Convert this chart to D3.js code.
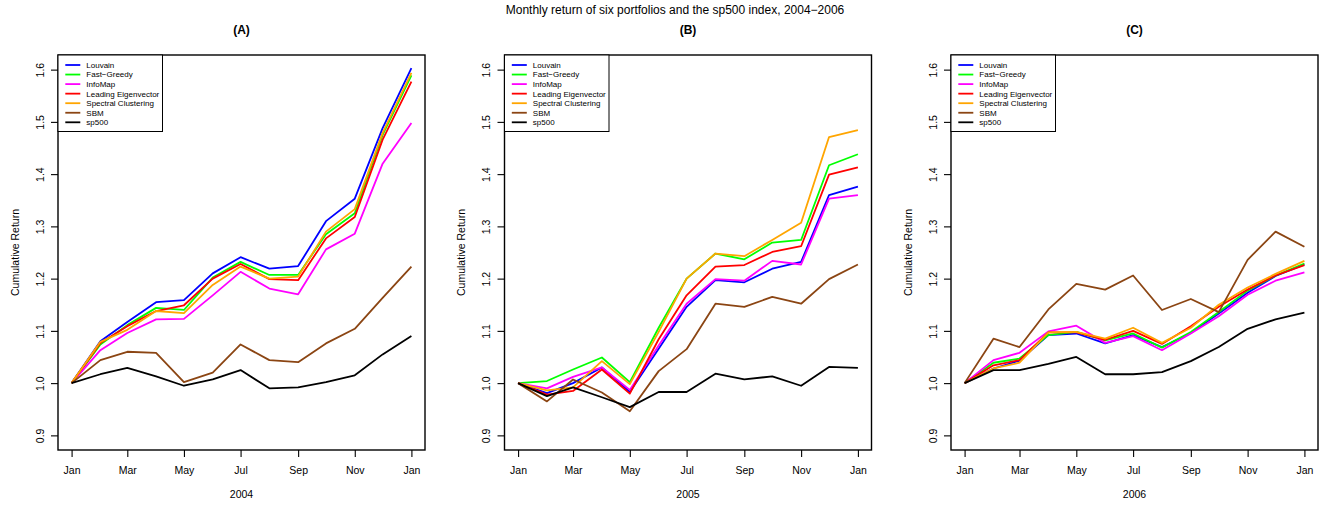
<!DOCTYPE html>
<html>
<head>
<meta charset="utf-8">
<script src="https://cdn.jsdelivr.net/npm/d3@7"></script>
<style>
  html, body { margin: 0; padding: 0; background: #fff; }
  svg { display: block; font-family: "Liberation Sans", Arial, Helvetica, sans-serif; }
</style>
</head>
<body>
<svg id="chart" width="1335" height="508"></svg>
<script>
// ---- data -------------------------------------------------------------
const years = [2004, 2005, 2006];
const panelLabels = ["(A)", "(B)", "(C)"];
const seriesNames = ["Louvain", "Fast\u2212Greedy", "InfoMap", "Leading Eigenvector", "Spectral Clustering", "SBM", "sp500"];
const seriesColors = ["#0000ff", "#00ff00", "#ff00ff", "#ff0000", "#ffa500", "#8b4513", "#000000"];
const yTicks = [0.9, 1.0, 1.1, 1.2, 1.3, 1.4, 1.5, 1.6];
const monthTickLabels = ["Jan", "Mar", "May", "Jul", "Sep", "Nov", "Jan"];

// cumulative return at the first of each month, Jan..Jan, one row per year
const louvain = [
  [1.000, 1.080, 1.117, 1.155, 1.159, 1.210, 1.241, 1.219, 1.224, 1.310, 1.353, 1.488, 1.603],
  [1.000, 0.981, 1.000, 1.030, 0.983, 1.066, 1.146, 1.197, 1.193, 1.219, 1.232, 1.360, 1.376],
  [1.000, 1.028, 1.043, 1.092, 1.095, 1.076, 1.092, 1.069, 1.096, 1.133, 1.173, 1.205, 1.227]
];
const fastGreedy = [
  [1.000, 1.074, 1.111, 1.144, 1.140, 1.202, 1.232, 1.207, 1.207, 1.285, 1.325, 1.475, 1.589],
  [1.000, 1.004, 1.026, 1.049, 1.002, 1.106, 1.200, 1.248, 1.237, 1.269, 1.274, 1.417, 1.438],
  [1.000, 1.039, 1.047, 1.092, 1.098, 1.082, 1.095, 1.068, 1.098, 1.136, 1.177, 1.206, 1.229]
];
const infoMap = [
  [1.000, 1.063, 1.096, 1.122, 1.123, 1.168, 1.213, 1.181, 1.170, 1.256, 1.286, 1.420, 1.498],
  [1.000, 0.990, 1.012, 1.030, 0.987, 1.072, 1.152, 1.199, 1.196, 1.234, 1.227, 1.353, 1.360],
  [1.000, 1.044, 1.058, 1.099, 1.110, 1.077, 1.090, 1.063, 1.095, 1.128, 1.169, 1.196, 1.212]
];
const leadingEigen = [
  [1.000, 1.077, 1.109, 1.138, 1.149, 1.200, 1.228, 1.199, 1.197, 1.277, 1.318, 1.466, 1.577],
  [1.000, 0.978, 0.985, 1.026, 0.980, 1.084, 1.168, 1.223, 1.226, 1.251, 1.262, 1.399, 1.413],
  [1.000, 1.034, 1.044, 1.097, 1.097, 1.083, 1.100, 1.075, 1.109, 1.146, 1.179, 1.206, 1.226]
];
const spectral = [
  [1.000, 1.079, 1.102, 1.138, 1.134, 1.188, 1.223, 1.200, 1.204, 1.290, 1.333, 1.479, 1.594],
  [1.000, 0.986, 0.992, 1.042, 0.998, 1.098, 1.200, 1.248, 1.243, 1.274, 1.307, 1.471, 1.484],
  [1.000, 1.028, 1.039, 1.097, 1.098, 1.085, 1.106, 1.077, 1.106, 1.150, 1.183, 1.209, 1.234]
];
const sbm = [
  [1.000, 1.044, 1.060, 1.058, 1.002, 1.020, 1.074, 1.044, 1.040, 1.076, 1.104, 1.163, 1.223],
  [1.000, 0.965, 1.007, 0.982, 0.946, 1.023, 1.065, 1.152, 1.146, 1.165, 1.152, 1.199, 1.227],
  [1.000, 1.085, 1.069, 1.141, 1.190, 1.179, 1.206, 1.140, 1.161, 1.136, 1.236, 1.290, 1.261]
];
const sp500 = [
  [1.000, 1.017, 1.029, 1.013, 0.995, 1.007, 1.025, 0.990, 0.992, 1.002, 1.015, 1.055, 1.090],
  [1.000, 0.975, 0.992, 0.973, 0.954, 0.983, 0.983, 1.018, 1.007, 1.013, 0.995, 1.031, 1.029],
  [1.000, 1.025, 1.025, 1.037, 1.050, 1.017, 1.017, 1.021, 1.042, 1.069, 1.104, 1.122, 1.135]
];
const seriesValues = [louvain, fastGreedy, infoMap, leadingEigen, spectral, sbm, sp500];

// ---- layout -----------------------------------------------------------
const svg = d3.select("#chart");
const panelLefts = [58, 504.5, 951];
const panelWidth = 367;
const plotTop = 55, plotBottom = 450;
const fontTick = "10.5px";

svg.append("text")
  .attr("x", 675).attr("y", 14)
  .attr("text-anchor", "middle")
  .style("font-size", "12px")
  .text("Monthly return of six portfolios and the sp500 index, 2004\u22122006");

// R-style axis range: data limits padded by 4% on each side
const yLo = 0.9, yHi = 1.6, yPad = (yHi - yLo) * 0.04;
const y = d3.scaleLinear().domain([yLo - yPad, yHi + yPad]).range([plotBottom, plotTop]);

years.forEach((year, p) => {
  const left = panelLefts[p], right = left + panelWidth;
  const start = new Date(Date.UTC(year, 0, 1));
  const end = new Date(Date.UTC(year + 1, 0, 1));
  const dates = d3.utcMonth.range(start, new Date(Date.UTC(year + 1, 0, 2)));
  const span = end - start;
  const x = d3.scaleUtc()
    .domain([new Date(+start - span * 0.04), new Date(+end + span * 0.04)])
    .range([left, right]);

  const g = svg.append("g");

  // panel title
  g.append("text")
    .attr("x", (left + right) / 2).attr("y", 34)
    .attr("text-anchor", "middle")
    .style("font-size", "12px").style("font-weight", "bold")
    .text(panelLabels[p]);

  // series lines
  const line = d3.line().x((d, i) => x(dates[i])).y(d => y(d));
  seriesValues.forEach((vals, s) => {
    g.append("path")
      .attr("d", line(vals[p]))
      .attr("fill", "none")
      .attr("stroke", seriesColors[s])
      .attr("stroke-width", 1.8)
      .attr("stroke-linejoin", "round");
  });

  // x axis
  const xTickDates = d3.utcMonth.every(2).range(start, new Date(Date.UTC(year + 1, 0, 2)));
  const xAxis = d3.axisBottom(x)
    .tickValues(xTickDates)
    .tickFormat((d, i) => monthTickLabels[i])
    .tickSize(7).tickSizeOuter(0).tickPadding(8);
  const xa = g.append("g").attr("transform", `translate(0,${plotBottom})`).call(xAxis);
  xa.select(".domain").remove();
  xa.selectAll("line").attr("stroke", "#000").attr("stroke-width", 1.1);
  xa.selectAll("text").style("font-size", fontTick).attr("fill", "#000")
    .attr("dy", null).attr("y", 24);

  // y axis, labels rotated as in base graphics
  const yAxis = d3.axisLeft(y).tickValues(yTicks).tickFormat(d3.format(".1f"))
    .tickSize(7).tickSizeOuter(0);
  const ya = g.append("g").attr("transform", `translate(${left},0)`).call(yAxis);
  ya.select(".domain").remove();
  ya.selectAll("line").attr("stroke", "#000").attr("stroke-width", 1.1);
  ya.selectAll("text")
    .style("font-size", fontTick).attr("fill", "#000")
    .attr("x", null).attr("dy", null)
    .attr("text-anchor", "middle")
    .attr("transform", "translate(-14.3,0) rotate(-90)");

  // plot frame
  g.append("rect")
    .attr("x", left).attr("y", plotTop)
    .attr("width", panelWidth).attr("height", plotBottom - plotTop)
    .attr("fill", "none").attr("stroke", "#000").attr("stroke-width", 1.4);

  // axis titles
  g.append("text")
    .attr("x", (left + right) / 2).attr("y", 498)
    .attr("text-anchor", "middle").style("font-size", fontTick)
    .text(year);
  g.append("text")
    .attr("transform", `translate(${left - 39.3},${(plotTop + plotBottom) / 2}) rotate(-90)`)
    .attr("text-anchor", "middle").style("font-size", fontTick)
    .text("Cumulative Return");

  // legend
  const lg = g.append("g").attr("transform", `translate(${left},${plotTop})`);
  lg.append("rect")
    .attr("width", 104.5).attr("height", 76.5)
    .attr("fill", "#fff").attr("stroke", "#000").attr("stroke-width", 1);
  seriesNames.forEach((name, s) => {
    const cy = 10 + s * 9.55;
    lg.append("line")
      .attr("x1", 7.3).attr("x2", 22.3).attr("y1", cy).attr("y2", cy)
      .attr("stroke", seriesColors[s]).attr("stroke-width", 1.8);
    lg.append("text")
      .attr("x", 28.3).attr("y", cy + 2.9)
      .style("font-size", "8px")
      .text(name);
  });
});
</script>
</body>
</html>
